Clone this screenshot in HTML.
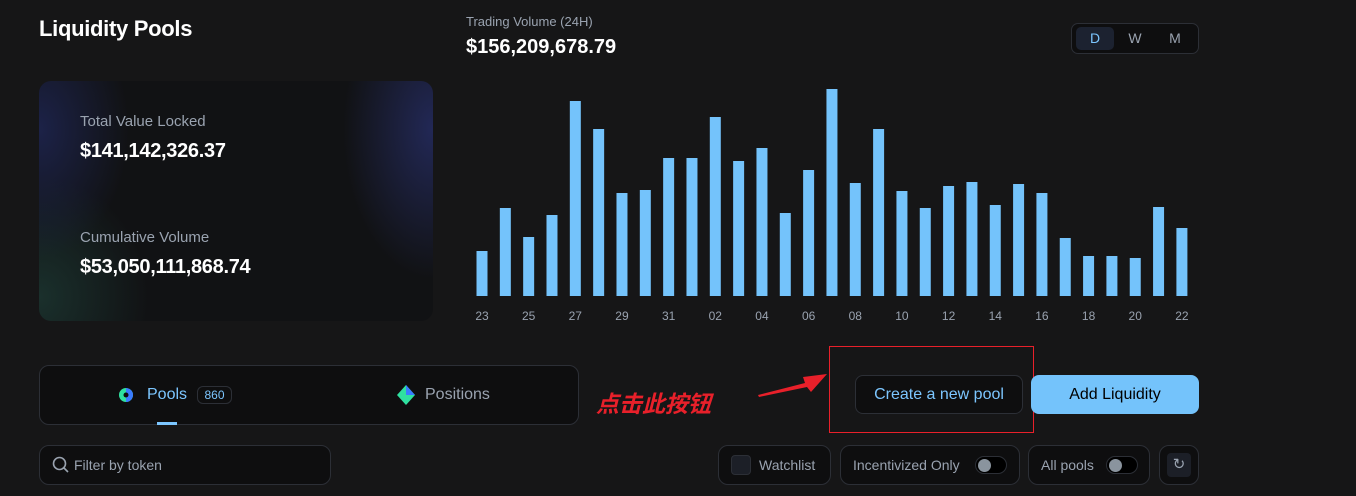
<!DOCTYPE html>
<html><head><meta charset="utf-8"><style>
*{box-sizing:border-box;margin:0;padding:0}
body{width:1356px;height:496px;background:#161617;font-family:"Liberation Sans","Noto Sans CJK SC",sans-serif;color:#fff;position:relative;overflow:hidden}
.a{position:absolute}
.box{position:absolute;border:1px solid #2c2f36;border-radius:10px;background:#0e0e0f}
.g{color:#9aa3b0}
</style></head><body>
<div class="a" style="left:39px;top:16px;font-size:22px;font-weight:bold;letter-spacing:-0.3px">Liquidity Pools</div>
<div class="a" style="left:39px;top:81px;width:394px;height:240px;border-radius:12px;background:radial-gradient(ellipse 90px 150px at 100% 20%,#222856 0,rgba(30,30,60,0) 100%),radial-gradient(ellipse 90px 130px at 0% 20%,#1c2248 0,rgba(30,30,60,0) 100%),radial-gradient(ellipse 110px 120px at 0% 90%,#1a302c 0,rgba(20,40,40,0) 100%),#111214"></div>
<div class="a g" style="left:80px;top:113px;font-size:15px">Total Value Locked</div>
<div class="a" style="left:80px;top:140px;font-size:20px;font-weight:bold;letter-spacing:-0.3px">$141,142,326.37</div>
<div class="a g" style="left:80px;top:229px;font-size:15px">Cumulative Volume</div>
<div class="a" style="left:80px;top:256px;font-size:20px;font-weight:bold;letter-spacing:-0.3px">$53,050,111,868.74</div>
<div class="a g" style="left:466px;top:14px;font-size:13px">Trading Volume (24H)</div>
<div class="a" style="left:466px;top:36px;font-size:20px;font-weight:bold">$156,209,678.79</div>
<div class="a" style="left:1071px;top:23px;width:128px;height:31px;border:1px solid #2c2f36;border-radius:7px;background:#0e0e0f"></div>
<div class="a" style="left:1076px;top:27px;width:38px;height:23px;border-radius:5px;background:#1c2230;color:#7cc6ff;font-size:14px;text-align:center;line-height:23px">D</div>
<div class="a g" style="left:1118px;top:27px;width:34px;height:23px;font-size:14px;text-align:center;line-height:23px">W</div>
<div class="a g" style="left:1158px;top:27px;width:34px;height:23px;font-size:14px;text-align:center;line-height:23px">M</div>
<svg class="a" style="left:460px;top:70px" width="750" height="260" id="chart"></svg>
<div class="box" style="left:39px;top:365px;width:540px;height:60px"></div>
<svg class="a" style="left:118px;top:387px" width="18" height="16"><circle cx="8" cy="8" r="7" fill="#2fe0a0"/><path d="M8 1a7 7 0 0 1 0 14z" fill="#3a7bff"/><circle cx="8" cy="8" r="2.5" fill="#0e0e0f"/></svg>
<div class="a" style="left:147px;top:386px;font-size:16px;color:#7cc6ff">Pools</div>
<div class="a" style="left:197px;top:386px;width:35px;height:18px;border:1px solid #2c2f36;border-radius:6px;font-size:12px;color:#7cc6ff;text-align:center;line-height:16px">860</div>
<div class="a" style="left:157px;top:422px;width:20px;height:3px;background:#7cc6ff"></div>
<svg class="a" style="left:396px;top:384px" width="20" height="22"><polygon points="10,1 19,11 10,21 1,11" fill="#2fe0a0"/><polygon points="10,1 19,11 10,11" fill="#3a7bff"/></svg>
<div class="a g" style="left:425px;top:386px;font-size:16px">Positions</div>
<div class="a" style="left:596px;top:385px;font-size:23px;font-weight:bold;font-style:italic;color:#e8202a;font-family:'Noto Sans CJK SC',sans-serif">点击此按钮</div>
<svg class="a" style="left:755px;top:370px" width="75" height="30"><polygon points="3,25 50,13 48,7 72,4 56,22 52,17 4,27" fill="#e8202a"/></svg>
<div class="a" style="left:829px;top:346px;width:205px;height:87px;border:1px solid #e8202a"></div>
<div class="a" style="left:855px;top:375px;width:168px;height:39px;border:1px solid #2c2f36;border-radius:8px;background:#0e0e0f;color:#7cc6ff;font-size:16px;text-align:center;line-height:37px">Create a new pool</div>
<div class="a" style="left:1031px;top:375px;width:168px;height:39px;border-radius:8px;background:#74c3fb;color:#000;font-size:16px;text-align:center;line-height:39px">Add Liquidity</div>
<div class="box" style="left:39px;top:445px;width:292px;height:40px"></div>
<svg class="a" style="left:52px;top:456px" width="18" height="18"><circle cx="7.5" cy="7.5" r="6" stroke="#9aa3b0" stroke-width="1.6" fill="none"/><line x1="12" y1="12" x2="16" y2="16" stroke="#9aa3b0" stroke-width="1.6"/></svg>
<div class="a g" style="left:74px;top:457px;font-size:14px">Filter by token</div>
<div class="box" style="left:718px;top:445px;width:113px;height:40px"></div>
<div class="a" style="left:731px;top:455px;width:20px;height:20px;border:1px solid #2c2f36;border-radius:4px;background:#1c1f27"></div>
<div class="a g" style="left:759px;top:457px;font-size:14px">Watchlist</div>
<div class="box" style="left:840px;top:445px;width:180px;height:40px"></div>
<div class="a g" style="left:853px;top:457px;font-size:14px">Incentivized Only</div>
<div class="a" style="left:975px;top:456px;width:32px;height:18px;border:1px solid #2c2f36;border-radius:9px;background:#000"><div style="position:absolute;left:2px;top:2px;width:13px;height:13px;border-radius:50%;background:#8a949e"></div></div>
<div class="box" style="left:1028px;top:445px;width:122px;height:40px"></div>
<div class="a g" style="left:1041px;top:457px;font-size:14px">All pools</div>
<div class="a" style="left:1106px;top:456px;width:32px;height:18px;border:1px solid #2c2f36;border-radius:9px;background:#000"><div style="position:absolute;left:2px;top:2px;width:13px;height:13px;border-radius:50%;background:#8a949e"></div></div>
<div class="box" style="left:1159px;top:445px;width:40px;height:40px"></div>
<div class="a" style="left:1167px;top:453px;width:24px;height:24px;border-radius:4px;background:#1c1f27;color:#9aa3b0;font-size:15px;text-align:center;line-height:24px">↻</div>
<script>
const categories=["23","24","25","26","27","28","29","30","31","01","02","03","04","05","06","07","08","09","10","11","12","13","14","15","16","17","18","19","20","21","22"];
const volumes=[45,88,59,81,195,167,103,106,138,138,179,135,148,83,126,207,113,167,105,88,110,114,91,112,103,58,40,40,38,89,68];
const tickLabels=["23","25","27","29","31","02","04","06","08","10","12","14","16","18","20","22"];
const svg=document.getElementById('chart');
const NS='http://www.w3.org/2000/svg';
const x0=22,step=23.33,base=226,scale=1.0,bw=11;
const xPos=i=>x0+i*step;
const yPos=v=>base-v*scale;
volumes.forEach((v,i)=>{
 const r=document.createElementNS(NS,'rect');
 
 
 r.setAttribute('x',xPos(i)-bw/2);r.setAttribute('y',yPos(v));
 r.setAttribute('width',bw);r.setAttribute('height',base-yPos(v));
 r.setAttribute('fill','#74c3fb');svg.appendChild(r);
});
tickLabels.forEach(l=>{
 const i=categories.indexOf(l);
 const t=document.createElementNS(NS,'text');
 
 
 t.setAttribute('x',xPos(i));t.setAttribute('y',250);
 t.setAttribute('text-anchor','middle');t.setAttribute('font-size','12');
 t.setAttribute('fill','#9aa3b0');t.setAttribute('font-family','Liberation Sans, sans-serif');
 t.textContent=l;svg.appendChild(t);
});
</script>
</body></html>
